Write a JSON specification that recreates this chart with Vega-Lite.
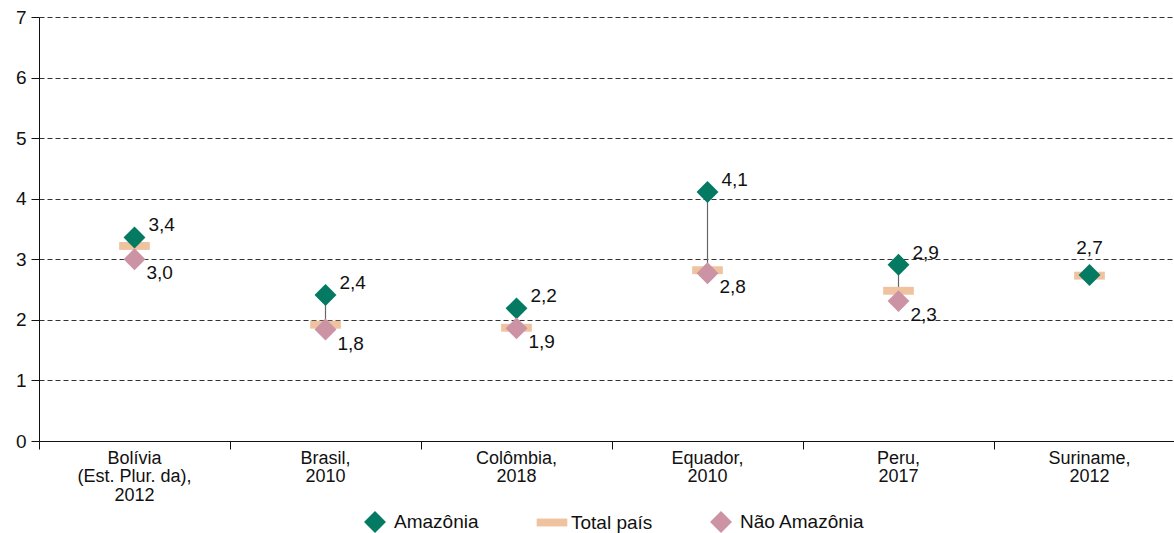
{
  "$schema": "https://vega.github.io/schema/vega-lite/v6.json",
  "autosize": {"type": "none"},
  "padding": {"left": 39, "top": 17, "right": 0, "bottom": 92},
  "width": 1135,
  "height": 424,
  "background": "white",
  "config": {
    "view": {"stroke": null},
    "font": "Liberation Sans",
    "locale": {"number": {"decimal": ",", "thousands": ".", "grouping": [3], "currency": ["", ""]}}
  },
  "data": {
    "values": [
      {"country": "Bolívia\n(Est. Plur. da),\n2012", "serie": "Total país", "value": 3.22},
      {"country": "Bolívia\n(Est. Plur. da),\n2012", "serie": "Amazônia", "value": 3.36},
      {"country": "Bolívia\n(Est. Plur. da),\n2012", "serie": "Não Amazônia", "value": 3.0},
      {"country": "Brasil,\n2010", "serie": "Total país", "value": 1.92},
      {"country": "Brasil,\n2010", "serie": "Amazônia", "value": 2.41},
      {"country": "Brasil,\n2010", "serie": "Não Amazônia", "value": 1.84},
      {"country": "Colômbia,\n2018", "serie": "Total país", "value": 1.87},
      {"country": "Colômbia,\n2018", "serie": "Amazônia", "value": 2.19},
      {"country": "Colômbia,\n2018", "serie": "Não Amazônia", "value": 1.86},
      {"country": "Equador,\n2010", "serie": "Total país", "value": 2.82},
      {"country": "Equador,\n2010", "serie": "Amazônia", "value": 4.11},
      {"country": "Equador,\n2010", "serie": "Não Amazônia", "value": 2.77},
      {"country": "Peru,\n2017", "serie": "Total país", "value": 2.48},
      {"country": "Peru,\n2017", "serie": "Amazônia", "value": 2.91},
      {"country": "Peru,\n2017", "serie": "Não Amazônia", "value": 2.31},
      {"country": "Suriname,\n2012", "serie": "Total país", "value": 2.73},
      {"country": "Suriname,\n2012", "serie": "Amazônia", "value": 2.74}
    ]
  },
  "encoding": {
    "x": {
      "field": "country", "type": "nominal", "sort": null,
      "scale": {"paddingInner": 0, "paddingOuter": 0, "range": [0, 1146]},
      "axis": {
        "title": null, "labelAngle": 0, "bandPosition": 0,
        "labelExpr": "split(datum.value, '\\n')",
        "labelFontSize": 18, "labelLineHeight": 18.5, "labelColor": "#111",
        "labelPadding": 0, "labelBaseline": "top",
        "tickSize": 8, "tickColor": "#111", "domainColor": "#111",
        "domainWidth": 1, "grid": false
      }
    },
    "y": {
      "field": "value", "type": "quantitative",
      "scale": {"domain": [0, 7], "nice": false, "zero": true},
      "axis": {
        "title": null, "values": [0, 1, 2, 3, 4, 5, 6, 7],
        "format": "d", "labelOverlap": false, "labelFlush": false,
        "labelFontSize": 19, "labelColor": "#111", "labelPadding": 5,
        "tickSize": 8, "tickColor": "#111", "domainColor": "#111",
        "grid": true, "gridColor": "#333", "gridDash": [5, 3], "gridWidth": 1
      }
    }
  },
  "layer": [
    {
      "transform": [
        {"pivot": "serie", "value": "value", "groupby": ["country"]},
        {"filter": "isValid(datum['Não Amazônia'])"}
      ],
      "mark": {"type": "rule", "color": "#666", "strokeWidth": 1.2},
      "encoding": {
        "y": {"field": "Amazônia", "type": "quantitative"},
        "y2": {"field": "Não Amazônia"}
      }
    },
    {
      "mark": {"type": "point", "filled": true, "size": 480, "opacity": 1, "strokeWidth": 0},
      "encoding": {
        "color": {
          "field": "serie", "type": "nominal",
          "scale": {"domain": ["Amazônia", "Total país", "Não Amazônia"], "range": ["#037a61", "#efc3a0", "#cb93a4"]},
          "legend": {
            "title": null, "orient": "none", "direction": "horizontal",
            "legendX": 325, "legendY": 494, "padding": 0,
            "symbolSize": 480, "symbolStrokeWidth": 0, "symbolOpacity": 1,
            "labelFontSize": 19, "labelColor": "#111", "labelOffset": 8,
            "columnPadding": 57
          }
        },
        "shape": {
          "field": "serie", "type": "nominal",
          "scale": {"domain": ["Amazônia", "Total país", "Não Amazônia"], "range": ["diamond", "M-1.4,-0.36H1.4V0.36H-1.4Z", "diamond"]},
          "legend": {
            "title": null, "orient": "none", "direction": "horizontal",
            "legendX": 325, "legendY": 494, "padding": 0,
            "symbolSize": 480, "symbolStrokeWidth": 0, "symbolOpacity": 1,
            "labelFontSize": 19, "labelColor": "#111", "labelOffset": 8,
            "columnPadding": 57
          }
        }
      }
    },
    {
      "transform": [{"filter": "datum.serie == 'Amazônia' && indexof(datum.country, 'Suriname') < 0"}],
      "mark": {"type": "text", "align": "left", "baseline": "middle", "dx": 14, "dy": -12, "fontSize": 19, "color": "#111"},
      "encoding": {"text": {"field": "value", "type": "quantitative", "format": ".1f"}}
    },
    {
      "transform": [{"filter": "datum.serie == 'Não Amazônia'"}],
      "mark": {"type": "text", "align": "left", "baseline": "middle", "dx": 12, "dy": 14, "fontSize": 19, "color": "#111"},
      "encoding": {"text": {"field": "value", "type": "quantitative", "format": ".1f"}}
    },
    {
      "transform": [{"filter": "datum.serie == 'Amazônia' && indexof(datum.country, 'Suriname') >= 0"}],
      "mark": {"type": "text", "align": "center", "baseline": "middle", "dy": -27, "fontSize": 19, "color": "#111"},
      "encoding": {"text": {"field": "value", "type": "quantitative", "format": ".1f"}}
    }
  ]
}
